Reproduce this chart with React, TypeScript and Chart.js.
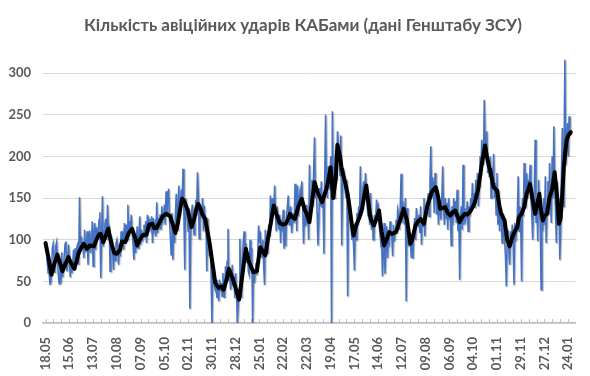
import React, { useEffect, useRef } from 'react';
import { Chart, registerables } from 'chart.js';

Chart.register(...registerables);

const TITLE = 'Кількість авіційних ударів КАБами (дані Генштабу ЗСУ)';

// x tick labels, one every 28 days starting at day 0
const X_TICK_LABELS = [
  '18.05', '15.06', '13.07', '10.08', '07.09', '05.10', '02.11', '30.11', '28.12', '25.01', '22.02',
  '22.03', '19.04', '17.05', '14.06', '12.07', '09.08', '06.09', '04.10', '01.11', '29.11', '27.12', '24.01',
];
const DAYS_PER_LABEL = 28;
const Y_TICKS = [0, 50, 100, 150, 200, 250, 300];

// daily number of strikes (blue)
const DAILY_STRIKES = [
  97, 88, 72, 60, 66, 47, 48, 62, 90, 95, 76, 60, 92, 97,
  78, 58, 47, 72, 48, 85, 55, 66, 80, 95, 98, 62, 70, 94, 78,
  55, 70, 60, 72, 88, 64, 90, 78, 92, 95, 70, 151, 88, 104, 96,
  97, 78, 112, 85, 93, 110, 70, 96, 111, 84, 95, 122, 68, 110,
  120, 88, 115, 105, 108, 124, 133, 54, 98, 152, 92, 110, 118, 125, 100,
  142, 112, 118, 62, 95, 100, 88, 64, 86, 75, 96, 100, 90, 70, 95,
  80, 110, 98, 105, 88, 120, 96, 118, 100, 142, 104, 122, 113, 130,
  108, 96, 76, 102, 84, 98, 116, 90, 104, 128, 94, 112, 98, 106, 118,
  102, 122, 96, 130, 110, 124, 120, 114, 128, 96, 126, 112, 118, 104, 145,
  108, 126, 118, 130, 112, 140, 122, 126, 142, 118, 158, 130, 150, 161,
  124, 104, 82, 132, 76, 118, 96, 130, 155, 112, 140, 165, 128, 146, 160,
  150, 185, 132, 64, 150, 140, 126, 110, 138, 17, 102, 132, 142, 124, 106,
  120, 148, 130, 181, 156, 101, 140, 128, 132, 150, 110, 141, 124, 118,
  62, 126, 108, 80, 95, 62, 0, 58, 66, 44, 40, 52, 30, 46, 26,
  52, 38, 48, 32, 60, 36, 30, 68, 58, 74, 113, 50, 62, 40, 48,
  70, 45, 56, 30, 60, 38, 0, 20, 40, 101, 62, 30, 75, 98,
  110, 80, 96, 72, 84, 62, 58, 100, 78, 90, 0, 66, 48, 60, 72,
  58, 80, 117, 96, 110, 88, 78, 100, 70, 46, 112, 90, 84, 102, 118,
  104, 153, 126, 148, 150, 138, 165, 128, 110, 140, 122, 112, 130, 96,
  124, 110, 136, 89, 118, 92, 128, 140, 153, 118, 134, 140, 108, 122, 132,
  120, 167, 152, 110, 165, 128, 150, 158, 146, 170, 138, 95, 130, 116, 142,
  118, 136, 100, 190, 128, 150, 172, 140, 186, 223, 150, 162, 132, 93,
  120, 162, 140, 170, 138, 148, 83, 178, 250, 165, 150, 188, 176, 160, 200,
  0, 254, 160, 150, 190, 208, 172, 230, 215, 200, 176, 225, 93, 160, 186,
  178, 160, 150, 172, 32, 150, 135, 128, 118, 100, 110, 92, 63, 120,
  100, 132, 118, 140, 128, 188, 130, 150, 162, 170, 148, 180, 156, 140, 128,
  138, 118, 156, 112, 130, 100, 104, 130, 122, 148, 136, 140, 118, 108, 96,
  104, 56, 80, 120, 59, 88, 116, 78, 100, 96, 122, 112, 104, 80,
  118, 98, 110, 124, 108, 136, 130, 112, 140, 179, 120, 146, 130, 118, 150,
  26, 138, 100, 92, 108, 96, 78, 104, 77, 112, 126, 100, 138, 124, 116,
  130, 108, 140, 94, 124, 116, 150, 104, 138, 130, 146, 156, 128, 170,
  212, 150, 175, 168, 132, 180, 150, 130, 160, 118, 140, 136, 124, 150, 188,
  140, 118, 150, 126, 144, 112, 150, 130, 136, 93, 140, 118, 150, 128, 146,
  120, 160, 110, 132, 52, 130, 140, 112, 190, 118, 138, 124, 130, 146,
  110, 140, 128, 150, 136, 168, 142, 156, 138, 172, 150, 180, 140, 164, 200,
  178, 220, 200, 190, 268, 220, 210, 230, 180, 196, 175, 200, 150, 186, 172,
  203, 150, 168, 130, 180, 118, 160, 110, 140, 125, 96, 132, 118, 100,
  80, 44, 96, 112, 86, 70, 110, 95, 118, 100, 46, 120, 98, 112, 130,
  176, 110, 140, 120, 50, 150, 128, 192, 160, 138, 180, 150, 172, 160, 190,
  150, 132, 100, 140, 160, 220, 120, 150, 98, 172, 140, 120, 40, 130, 110,
  150, 118, 176, 96, 140, 170, 130, 192, 150, 120, 200, 150, 236, 170, 130,
  96, 170, 120, 150, 76, 110, 180, 234, 140, 200, 316, 190, 220, 240, 200, 248, 230, 226,
];

// smoothed trend (black), read at these day indices
const TREND_DAYS = [
  0, 4, 7, 10, 14, 17, 20, 23, 27, 30, 34, 37, 39, 42, 45, 49, 52, 57, 60, 63, 65, 68, 71, 74, 77, 81, 84, 88, 90, 94,
  98, 102, 105, 108, 111, 115, 119, 122, 126, 128, 131, 135, 138, 142, 147, 150, 153, 156, 158, 161, 164, 168, 172, 175,
  178, 180, 183, 185, 188, 193, 197, 200, 204, 207, 210, 214, 216, 220, 224, 228, 231, 236, 240, 245, 249, 253, 259, 262,
  265, 269, 272, 276, 280, 283, 286, 288, 291, 294, 298, 302, 305, 308, 311, 314, 317, 321, 326, 329, 331, 334, 336, 339,
  342, 344, 347, 349, 353, 356, 358, 361, 363, 366, 370, 373, 376, 378, 381, 383, 387, 391, 393, 396, 399, 402, 405, 408,
  413, 417, 420, 422, 426, 430, 432, 436, 439, 442, 446, 450, 453, 455, 460, 463, 465, 468, 471, 474, 477, 480, 483, 486,
  488, 491, 494, 497, 500, 504, 506, 510, 514, 518, 521, 524, 528, 532, 535, 537, 541, 544, 547, 550, 553, 556, 558, 561,
  564, 567, 571, 574, 577, 580, 582, 584, 586, 588, 591, 594, 597, 600, 603, 605, 607, 609, 611, 614, 616, 619,
];
const TREND_VALUES = [
  96, 75, 58, 70, 82, 72, 62, 70, 79, 72, 65, 76, 84, 90, 95, 89, 93, 92, 100, 106, 107, 97, 105, 113, 98, 84, 83, 88, 98, 97,
  108, 113, 104, 93, 100, 106, 106, 118, 119, 114, 114, 122, 128, 131, 128, 118, 108, 120, 133, 149, 145, 134, 115, 124,
  138, 143, 136, 130, 125, 98, 70, 48, 42, 44, 40, 55, 65, 55, 42, 28, 50, 89, 73, 61, 62, 91, 81, 100,
  117, 141, 131, 120, 118, 119, 125, 131, 127, 125, 140, 149, 137, 130, 121, 145, 169, 156, 145, 155, 161, 175, 187, 150,
  173, 214, 200, 185, 169, 155, 141, 118, 105, 117, 127, 137, 155, 165, 140, 125, 117, 128, 135, 110, 93, 100, 109, 107,
  109, 121, 130, 137, 123, 95, 100, 117, 122, 125, 119, 141, 150, 157, 163, 150, 137, 138, 139, 132, 129, 133, 135, 127,
  121, 127, 131, 130, 133, 140, 145, 161, 190, 213, 195, 183, 163, 159, 140, 131, 123, 100, 92, 103, 110, 115, 127, 131,
  139, 155, 167, 148, 131, 145, 155, 135, 123, 128, 131, 151, 160, 181, 150, 119, 125, 155, 190, 219, 225, 229,
];

const FONT = 'Lato';

// chart title, centred at the title position of the original
const chartTitle = {
  id: 'chartTitle',
  afterDraw(chart: any) {
    const ctx = chart.ctx;
    ctx.save();
    ctx.font = `bold 17px ${FONT}`;
    ctx.fillStyle = '#595959';
    ctx.textAlign = 'center';
    ctx.textBaseline = 'middle';
    ctx.fillText(TITLE, chart.width / 2 + 8, 26);
    ctx.restore();
  },
};

const insideTicks = {
  id: 'insideTicks',
  beforeDatasetsDraw(chart: any) {
    const xs = chart.scales.x;
    const { bottom } = chart.chartArea;
    const ctx = chart.ctx;
    ctx.save();
    ctx.strokeStyle = '#bfbfbf';
    ctx.lineWidth = 1;
    const step = DAYS_PER_LABEL / 3;
    for (let v = 0; v <= xs.max; v += step) {
      const px = Math.round(xs.getPixelForValue(v)) + 0.5;
      ctx.beginPath();
      ctx.moveTo(px, bottom);
      ctx.lineTo(px, bottom - 4);
      ctx.stroke();
    }
    ctx.restore();
  },
};

const lineShadow = {
  id: 'lineShadow',
  beforeDatasetDraw(chart: any, args: any) {
    if (args.index === 1) {
      const ctx = chart.ctx;
      ctx.save();
      ctx.shadowColor = 'rgba(0,0,0,0.3)';
      ctx.shadowOffsetX = 1;
      ctx.shadowOffsetY = 1;
      ctx.shadowBlur = 1;
    }
  },
  afterDatasetDraw(chart: any, args: any) {
    if (args.index === 1) chart.ctx.restore();
  },
};

export default function App() {
  const ref = useRef<HTMLCanvasElement | null>(null);

  useEffect(() => {
    if (!ref.current) return;
    const blue = DAILY_STRIKES.map((y, i) => ({ x: i, y }));
    const black = TREND_DAYS.map((d, i) => ({ x: d, y: TREND_VALUES[i] }));
    const chart = new Chart(ref.current, {
      type: 'line',
      data: {
        datasets: [
          {
            data: black,
            borderColor: '#000000',
            borderWidth: 4,
            pointRadius: 0,
            tension: 0,
            borderJoinStyle: 'round',
            borderCapStyle: 'round',
            order: 1,
          },
          {
            data: blue,
            borderColor: '#4472C4',
            borderWidth: 1.5,
            pointRadius: 0,
            tension: 0,
            order: 2,
          },
        ],
      },
      options: {
        responsive: false,
        animation: false,
        layout: { padding: { left: 0, right: 12, top: 48, bottom: 0 } },
        plugins: {
          legend: { display: false },
          tooltip: { enabled: false },
          title: { display: false },
        },
        scales: {
          x: {
            type: 'linear',
            min: -3,
            max: 625,
            grid: { display: false },
            border: { display: true, color: '#bfbfbf', width: 1.5 },
            afterBuildTicks: (scale: any) => {
              scale.ticks = X_TICK_LABELS.map((_, i) => ({ value: i * DAYS_PER_LABEL }));
            },
            afterFit: (scale: any) => {
              scale.height = 53;
            },
            ticks: {
              autoSkip: false,
              maxRotation: 90,
              minRotation: 90,
              padding: 6,
              color: '#595959',
              font: { family: FONT, size: 13, weight: 'bold' },
              callback: (value: any) => X_TICK_LABELS[Math.round(Number(value) / DAYS_PER_LABEL)] ?? '',
            },
          },
          y: {
            min: 0,
            max: 330,
            afterBuildTicks: (scale: any) => {
              scale.ticks = Y_TICKS.map((v) => ({ value: v }));
            },
            afterFit: (scale: any) => {
              scale.width = 43;
            },
            grid: { color: '#d9d9d9', lineWidth: 1, drawTicks: false },
            border: { display: false },
            ticks: {
              padding: 12,
              color: '#595959',
              font: { family: FONT, size: 13, weight: 'bold' },
            },
          },
        },
      },
      plugins: [insideTicks, lineShadow, chartTitle],
    } as any);
    return () => chart.destroy();
  }, []);

  return (
    <div style={{ position: 'fixed', left: 0, top: 0, width: 590, height: 376, background: '#fff' }}>
      <canvas ref={ref} width={590} height={376} />
    </div>
  );
}
